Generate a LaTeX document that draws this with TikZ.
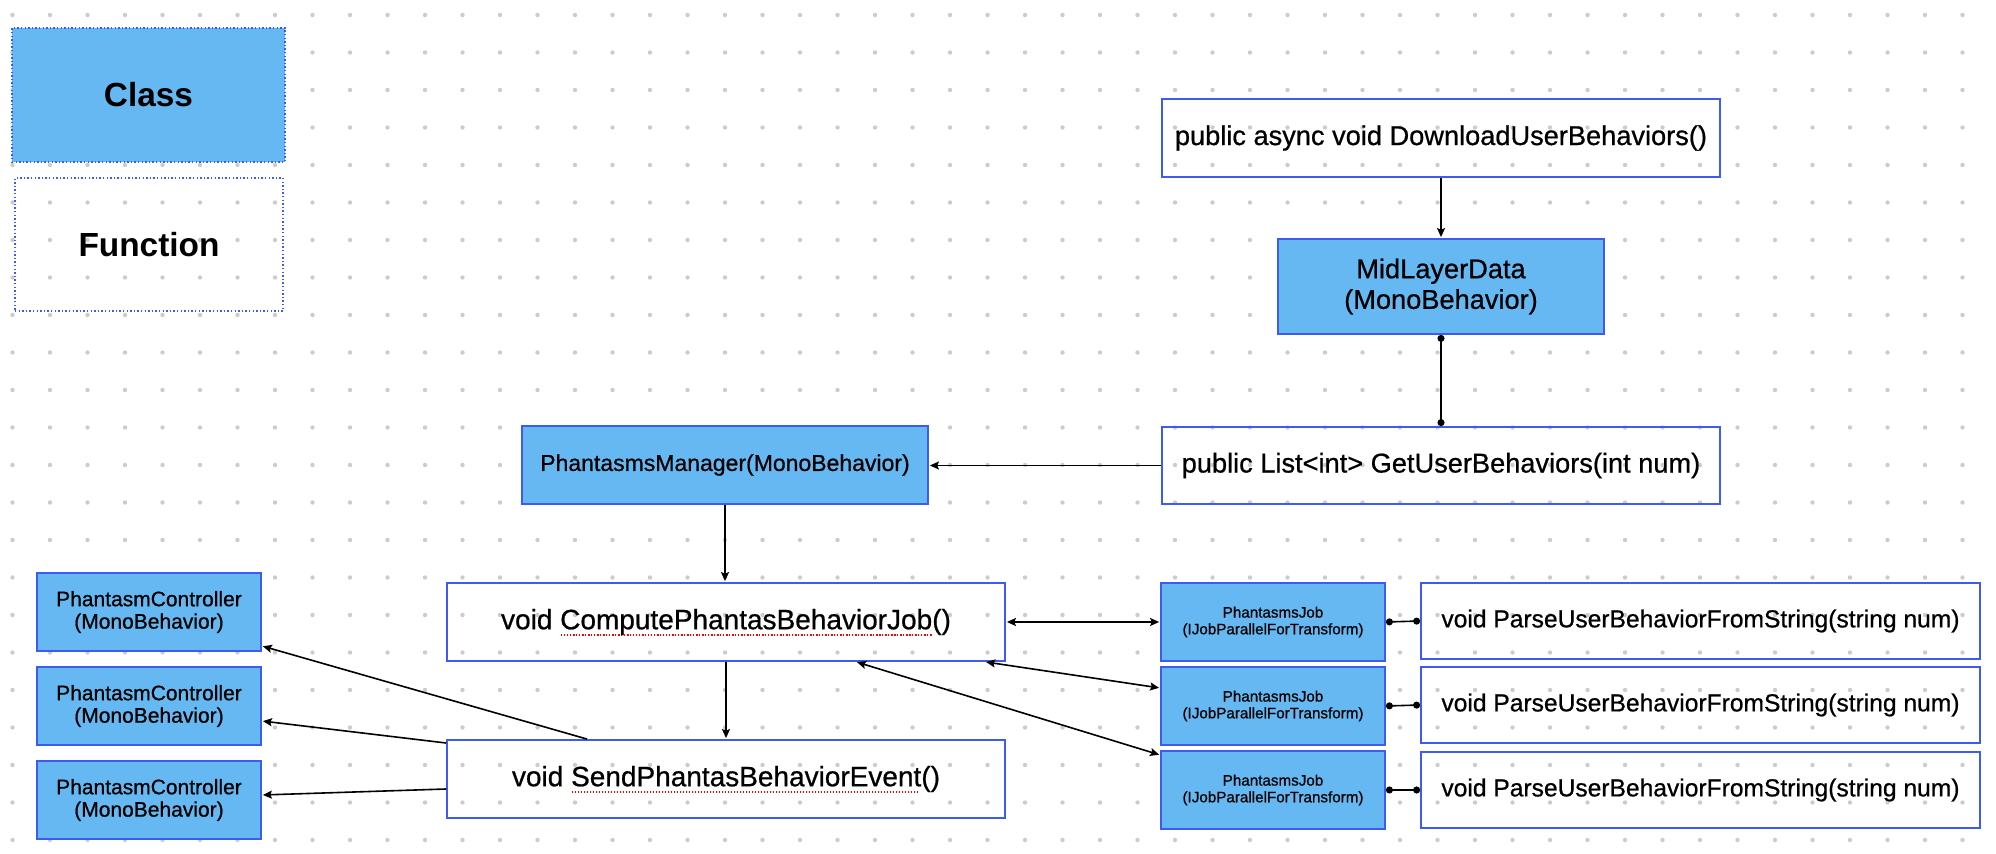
\documentclass[tikz,border=0pt]{standalone}
\usepackage{fontspec}
\setmainfont{Liberation Sans}
\newfontfamily\medfont{Liberation Sans}[FakeBold=0.7]
\usetikzlibrary{arrows.meta,calc}
\definecolor{bord}{HTML}{3D5AF1}
\definecolor{cfill}{HTML}{66B8F2}
\definecolor{griddot}{HTML}{CCCCCC}
\newsavebox\spellbox
\newcommand\spellmark[1]{\sbox\spellbox{#1}\rlap{\raisebox{-0.45ex}[0pt][0pt]{\color{red}\leaders\hbox to 1.5pt{\hss\rule{0.75pt}{0.75pt}\hss}\hskip\wd\spellbox}}\usebox\spellbox}
\begin{document}
\begin{tikzpicture}[x=0.5pt,y=-0.5pt,
  classbox/.style={draw=bord, fill=cfill, line width=0.9pt, inner sep=0pt, align=center},
  funcbox/.style={draw=bord, line width=0.9pt, inner sep=0pt, align=center},
  legclass/.style={draw=bord, fill=cfill, line width=0.7pt, dash pattern=on 0.7pt off 1.1pt, inner sep=0pt},
  legfunc/.style={draw=bord, line width=0.7pt, dash pattern=on 0.7pt off 1.1pt, inner sep=0pt},
  legfont/.style={font=\fontsize{16.7}{20}\selectfont\bfseries},
  bigfont/.style={font=\medfont\fontsize{13.6}{15.3}\selectfont},
  mgrfont/.style={font=\medfont\fontsize{11.5}{13}\selectfont},
  cmpfont/.style={font=\medfont\fontsize{14}{16}\selectfont},
  parsefont/.style={font=\medfont\fontsize{12.3}{14}\selectfont},
  ctrlfont/.style={font=\medfont\fontsize{10.5}{11.2}\selectfont},
  jobfont/.style={font=\medfont\fontsize{7.6}{8.35}\selectfont},
  conn/.style={line width=0.8pt, black},
  arr/.style={conn, -{Stealth[length=4.5pt,width=4pt,inset=0.8pt]}, shorten >=0.5pt},
  darr/.style={conn, {Stealth[length=4.5pt,width=4pt,inset=0.8pt]}-{Stealth[length=4.5pt,width=4pt,inset=0.8pt]}, shorten >=0.5pt, shorten <=0.5pt},
  dotconn/.style={conn, {Circle[length=3.5pt]}-{Circle[length=3.5pt]}}
]
\fill[white] (0,0) rectangle (1996,854);
\useasboundingbox (0,0) rectangle (1996,854);
% dot grid
\foreach \i in {0,...,52}{
  \foreach \j in {0,...,22}{
    \fill[griddot] ({12.5+37.5*\i},{15+37.5*\j}) circle (1.1pt);
  }
}
% legend
\node[legclass, legfont, minimum width=136.5pt, minimum height=67pt] (legc) at (148.5,95) {Class};
\node[legfunc, legfont, minimum width=134pt, minimum height=66.5pt] (legf) at (149,244.5) {Function};
% top right chain
\node[funcbox, bigfont, minimum width=279pt, minimum height=39pt] (download) at (1441,138) {public async void DownloadUserBehaviors()};
\node[classbox, bigfont, minimum width=163pt, minimum height=47.5pt] (mid) at (1441,286.5) {MidLayerData\\(MonoBehavior)};
\node[funcbox, bigfont, minimum width=279pt, minimum height=38.5pt] (getuser) at (1441,465.5) {public List<int> GetUserBehaviors(int num)};
% manager and center column
\node[classbox, mgrfont, minimum width=203pt, minimum height=39pt] (manager) at (725,465) {PhantasmsManager(MonoBehavior)};
\node[funcbox, cmpfont, minimum width=279pt, minimum height=39pt] (compute) at (726,622) {void \spellmark{ComputePhantasBehaviorJob}()};
\node[funcbox, cmpfont, minimum width=279pt, minimum height=39pt] (send) at (726,779) {void \spellmark{SendPhantasBehaviorEvent}()};
% controllers
\node[classbox, ctrlfont, minimum width=112pt, minimum height=39pt] (ctrl1) at (149,612) {PhantasmController\\(MonoBehavior)};
\node[classbox, ctrlfont, minimum width=112pt, minimum height=39pt] (ctrl2) at (149,706) {PhantasmController\\(MonoBehavior)};
\node[classbox, ctrlfont, minimum width=112pt, minimum height=39pt] (ctrl3) at (149,800) {PhantasmController\\(MonoBehavior)};
% jobs
\node[classbox, jobfont, minimum width=112pt, minimum height=39pt] (job1) at (1273,622) {PhantasmsJob\\(IJobParallelForTransform)};
\node[classbox, jobfont, minimum width=112pt, minimum height=39pt] (job2) at (1273,706) {PhantasmsJob\\(IJobParallelForTransform)};
\node[classbox, jobfont, minimum width=112pt, minimum height=39pt] (job3) at (1273,790) {PhantasmsJob\\(IJobParallelForTransform)};
% parse functions
\node[funcbox, parsefont, minimum width=279.5pt, minimum height=38pt] (parse1) at (1700.5,621) {void ParseUserBehaviorFromString(string num)};
\node[funcbox, parsefont, minimum width=279.5pt, minimum height=38pt] (parse2) at (1700.5,705) {void ParseUserBehaviorFromString(string num)};
\node[funcbox, parsefont, minimum width=279.5pt, minimum height=38pt] (parse3) at (1700.5,790) {void ParseUserBehaviorFromString(string num)};
% connectors
\draw[arr] (download.south) -- (mid.north);
\draw[dotconn] (mid.south) -- (getuser.north);
\draw[arr] (getuser.west) -- (getuser.west -| manager.east);
\draw[arr] (manager.south) -- (manager.south |- compute.north);
\draw[arr] (compute.south) -- (send.north);
\draw[darr] (compute.east) -- (job1.west);
\draw[darr] ([xshift=269.5pt]compute.south west) -- ([yshift=9pt]job2.west);
\draw[darr] ([xshift=205pt]compute.south west) -- ([yshift=17.5pt]job3.west);
\draw[arr] ([xshift=70.5pt]send.north west) -- ([yshift=-17pt]ctrl1.east);
\draw[arr] ([yshift=18pt]send.west) -- ([yshift=-7.5pt]ctrl2.east);
\draw[arr] ([yshift=-5pt]send.west) -- ([yshift=2.5pt]ctrl3.east);
\draw[dotconn] (job1.east) -- (parse1.west);
\draw[dotconn] (job2.east) -- (parse2.west);
\draw[dotconn] (job3.east) -- (parse3.west);
\end{tikzpicture}
\end{document}
